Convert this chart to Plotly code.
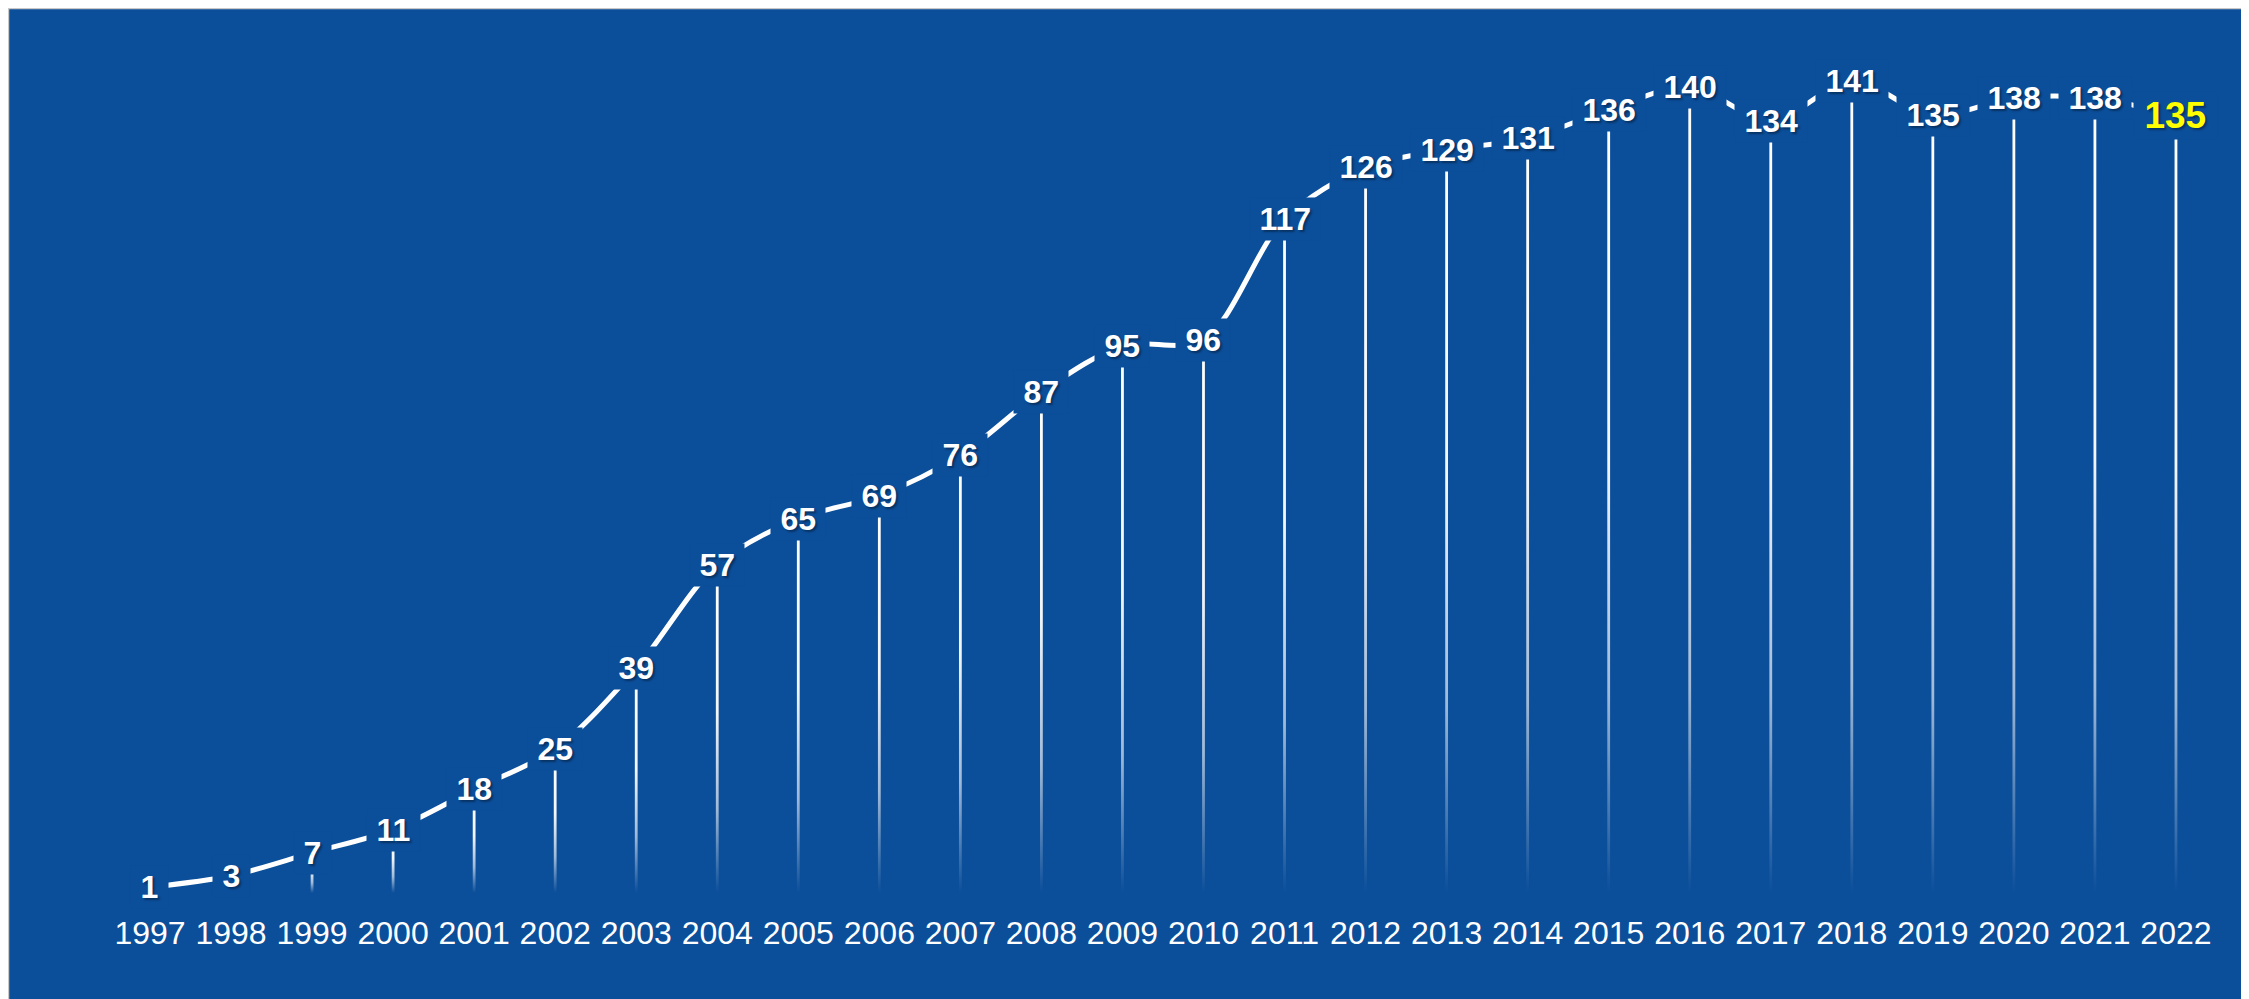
import plotly.graph_objects as go

years = list(range(1997, 2023))
values = [1, 3, 7, 11, 18, 25, 39, 57, 65, 69, 76, 87, 95, 96, 117, 126,
          129, 131, 136, 140, 134, 141, 135, 138, 138, 135]
year_labels = [str(y) for y in years]

BG = "#0B4E9A"
W, H = 2249, 999
ML, MR, MT, MB = 0, 0, 0, 114
PW, PH = W - ML - MR, H - MT - MB

fig = go.Figure()

# fading drop lines
half_w = 1.4 / 81.0
for x, v in zip(years, values):
    fig.add_trace(go.Scatter(
        x=[x - half_w, x + half_w, x + half_w, x - half_w, x - half_w],
        y=[0, 0, v, v, 0],
        mode="lines", line=dict(width=0), fill="toself",
        fillgradient=dict(type="vertical",
                          colorscale=[[0, "rgba(255,255,255,0)"],
                                      [0.25, "rgba(255,255,255,0.6)"],
                                      [0.55, "rgba(255,255,255,0.95)"],
                                      [1, "rgba(255,255,255,1)"]]),
        hoverinfo="skip", showlegend=False))

# smooth line
fig.add_trace(go.Scatter(
    x=years, y=values, mode="lines",
    line=dict(color="white", width=5, shape="spline", smoothing=0.9),
    hoverinfo="skip", showlegend=False))

# value labels
for i, (x, v) in enumerate(zip(years, values)):
    last = i == len(values) - 1
    fig.add_annotation(
        x=x, y=v, text=f"&#8201;{v}&#8201;", showarrow=False,
        xanchor="center", yanchor="middle",
        bgcolor=BG, borderpad=3,
        font=dict(family="Liberation Sans, Arial, sans-serif",
                  size=37 if last else 32,
                  color="#FFFF00" if last else "white",
                  weight="bold",
                  shadow="2px 2px 2px rgba(0,0,0,0.35)"))

shapes = [
    dict(type="line", xref="paper", yref="paper", x0=0, x1=1,
         y0=1 - 0.5 / PH, y1=1 - 0.5 / PH, line=dict(color="#C8C8C8", width=1.5)),
    dict(type="line", xref="paper", yref="paper", x0=0.5 / PW, x1=0.5 / PW,
         y0=1, y1=-MB / PH, line=dict(color="#C8C8C8", width=1.5)),
]

fig.update_layout(
    width=W, height=H,
    margin=dict(l=ML, r=MR, t=MT, b=MB, pad=0),
    paper_bgcolor=BG, plot_bgcolor=BG,
    shapes=shapes,
    xaxis=dict(range=[1995.248, 2023.0], tickmode="array", tickvals=years,
               ticktext=year_labels, showgrid=False, zeroline=False,
               showline=False, ticks="", ticklabelstandoff=18,
               tickfont=dict(family="Liberation Sans, Arial, sans-serif",
                             size=32, color="white"),
               fixedrange=True),
    yaxis=dict(range=[0, 153.65], visible=False, showgrid=False,
               zeroline=False, fixedrange=True),
    showlegend=False,
)

fig.write_html("out.html")
